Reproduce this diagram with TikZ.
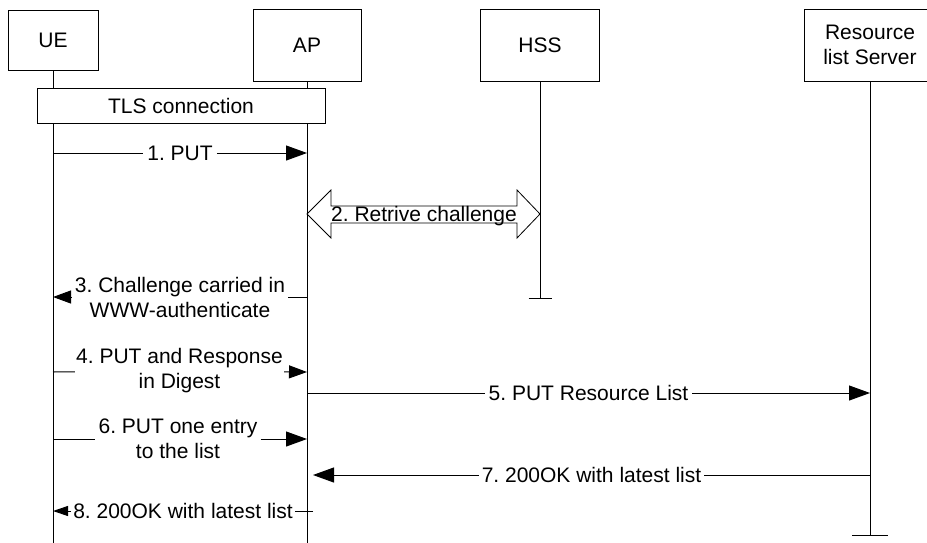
\documentclass[tikz,border=0pt]{standalone}
\usepackage{fontspec}
\setmainfont{Liberation Sans}
\usetikzlibrary{arrows.meta}
\frenchspacing
\begin{document}
\begin{tikzpicture}[x=1pt,y=-1pt,
  every node/.style={font=\fontsize{21}{25}\selectfont\frenchspacing, inner sep=0pt},
  actor/.style={draw, line width=1pt, fill=white, align=center},
  lbl/.style={align=center, inner xsep=3pt, inner ysep=0pt},
  life/.style={line width=1pt},
  msg/.style={line width=1pt},
  bigtip/.style={-{Triangle[length=21pt,width=15pt]}},
  midtip/.style={-{Triangle[length=18pt,width=13pt]}},
  smalltip/.style={-{Triangle[length=15pt,width=10pt]}},
  blockarrow/.style={draw, line width=0.8pt, fill=white}
]
\useasboundingbox (0,0) rectangle (927,542);
\clip (0,0) rectangle (927,542);

% actors
\node[actor, minimum width=90pt, minimum height=60pt] (ue) at (53,40) {UE};
\node[actor, minimum width=108pt, minimum height=72pt] (ap) at (307,45) {AP};
\node[actor, minimum width=119pt, minimum height=72pt] (hss) at (540,45) {HSS};
\node[actor, minimum width=132pt, minimum height=72pt] (rls) at (870,45) {Resource\\list Server};

% lifeline ends
\coordinate (ueend) at (53,545);
\coordinate (apend) at (307,545);
\coordinate (hssend) at (540,298);
\coordinate (rlsend) at (870,535);

\draw[life] (ue.south) -- (ueend);
\draw[life] (ap.south) -- (apend);
\draw[life] (hss.south) -- (hssend);
\draw[life] (rls.south) -- (rlsend);
\draw[life] ([xshift=-11.5pt]hssend) -- ([xshift=11.5pt]hssend);
\draw[life] ([xshift=-18pt]rlsend) -- ([xshift=18pt]rlsend);

% TLS connection
\node[actor, minimum width=288pt, minimum height=35pt] (tls) at (181,105.5) {TLS connection};

% 1. PUT
\coordinate (ue1) at (53,153);
\coordinate (ap1) at (307,153);
\node[lbl, inner xsep=4pt] (l1) at (180,153) {1. PUT};
\draw[msg] (ue1) -- (l1);
\draw[msg,bigtip] (l1) -- (ap1);

% 2. Retrive challenge (block double arrow)
\coordinate (ap2) at (307,214);
\coordinate (hss2) at (540,214);
\draw[blockarrow] (ap2) -- (331,190) -- (331,206) -- (517,206) -- (517,190) -- (hss2)
  -- (517,238) -- (517,223) -- (331,223) -- (331,238) -- cycle;
\node[anchor=base] (l2) at (424,221) {2. Retrive challenge};

% 3. Challenge
\coordinate (ap3) at (307,297);
\coordinate (ue3) at (53,297);
\node[lbl] (l3) at (180,297) {3. Challenge carried in\\WWW-authenticate};
\draw[msg] (ap3) -- (l3);
\draw[msg,midtip] (l3) -- (ue3);

% 4. PUT and Response
\coordinate (ue4) at (53,372);
\coordinate (ap4) at (307,372);
\node[lbl, inner xsep=1pt] (l4) at (179.5,371) {4. PUT and Response\\in Digest};
\draw[msg] (ue4) -- (l4);
\draw[msg,midtip] (l4) -- (ap4);

% 5. PUT Resource List
\coordinate (ap5) at (307,393);
\coordinate (rls5) at (870,393);
\node[lbl, inner xsep=4pt] (l5) at (588.5,393) {5. PUT Resource List};
\draw[msg] (ap5) -- (l5);
\draw[msg,bigtip] (l5) -- (rls5);

% 6. PUT one entry
\coordinate (ue6) at (53,439);
\coordinate (ap6) at (307,439);
\node[lbl] (l6) at (178,439) {6. PUT one entry\\to the list};
\draw[msg] (ue6) -- (l6);
\draw[msg,bigtip] (l6) -- (ap6);

% 7. 200OK
\coordinate (rls7) at (870,475);
\coordinate (ap7) at (313,475);
\node[lbl] (l7) at (591.5,475) {7. 200OK with latest list};
\draw[msg] (rls7) -- (l7);
\draw[msg,bigtip] (l7) -- (ap7);

% 8. 200OK
\coordinate (ap8) at (313,511);
\coordinate (ue8) at (53,511);
\node[lbl, inner xsep=2pt] (l8) at (183,511) {8. 200OK with latest list};
\draw[msg] (ap8) -- (l8);
\draw[msg,smalltip] (l8) -- (ue8);
\end{tikzpicture}
\end{document}
